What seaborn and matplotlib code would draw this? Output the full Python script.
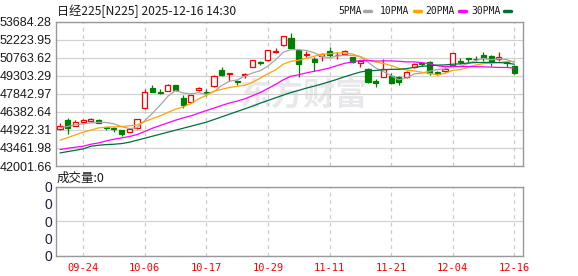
import numpy as np
import pandas as pd
import matplotlib
matplotlib.use("Agg")
import matplotlib.pyplot as plt
from matplotlib.lines import Line2D
import seaborn as sns

# ---------------- data ----------------
dates = ["09-18", "09-19", "09-22", "09-24", "09-25", "09-26", "09-29", "09-30",
         "10-01", "10-02", "10-03", "10-06", "10-07", "10-08", "10-09", "10-10",
         "10-14", "10-15", "10-16", "10-17", "10-20", "10-21", "10-22", "10-23",
         "10-24", "10-27", "10-28", "10-29", "10-30", "10-31", "11-04", "11-05",
         "11-06", "11-07", "11-10", "11-11", "11-12", "11-13", "11-14", "11-17",
         "11-18", "11-19", "11-20", "11-21", "11-25", "11-26", "11-27", "11-28",
         "12-01", "12-02", "12-03", "12-04", "12-05", "12-08", "12-09", "12-10",
         "12-11", "12-12", "12-15", "12-16"]

opens = [45007, 45764, 45277, 45602, 45683, 45710, 45169, 45061, 44899, 44791,
         45061, 46683, 48306, 48008, 48089, 48522, 47468, 47143, 48143, 48008,
         48441, 49766, 49441, 48901, 49333, 50036, 50442, 50550, 51199, 51767,
         52335, 51388, 50956, 50631, 50929, 51334, 50956, 51064, 50793, 50361,
         49874, 48901, 49225, 49279, 49171, 49171, 49982, 50307, 50415, 49604,
         49658, 50198, 50469, 50739, 50685, 50956, 50902, 50631, 50415, 50090]
highs = [45494, 45872, 45764, 45818, 45872, 45791, 45196, 45169, 44926, 45115,
         45818, 48225, 48549, 48198, 48603, 48549, 47711, 47765, 48414, 48252,
         49333, 49982, 49550, 48955, 49550, 50577, 50523, 51415, 51524, 52551,
         52740, 51442, 51280, 50847, 51118, 51605, 51226, 51388, 50847, 50577,
         49928, 49009, 50631, 49495, 49279, 49712, 50361, 50388, 50469, 49712,
         50036, 51145, 50739, 50766, 50902, 51226, 51010, 51226, 50469, 50144]
lows = [44953, 44574, 45223, 45385, 45602, 45467, 44926, 44791, 44466, 44737,
        45007, 46629, 47981, 47846, 48062, 48089, 46683, 47089, 48035, 47657,
        48387, 49279, 48847, 48576, 49117, 50009, 50198, 50523, 51118, 51740,
        51551, 49171, 50793, 49712, 50523, 50847, 50631, 51037, 50361, 50036,
        48739, 48360, 49171, 48631, 48576, 49144, 49955, 50090, 49333, 49387,
        49604, 50144, 50253, 50361, 50523, 50523, 50090, 50523, 50036, 49468]
closes = [45277, 45115, 45548, 45710, 45791, 45494, 45088, 45007, 44574, 45007,
          45791, 47954, 48008, 47873, 48576, 48143, 46954, 47711, 48306, 47873,
          49279, 49387, 49495, 48793, 49441, 50550, 50307, 51388, 51307, 52524,
          51578, 50280, 51064, 50415, 51037, 51010, 51010, 51334, 50415, 50469,
          48793, 48684, 49874, 48739, 48793, 49604, 50253, 50253, 49495, 49441,
          49874, 51118, 50415, 50685, 50631, 50739, 50523, 50847, 50361, 49495]

ma5 = [45110, 45200, 45330, 45420, 45488, 45532, 45526, 45418, 45191, 45034,
       45093, 45667, 46267, 46927, 47640, 48111, 47911, 47851, 47938, 47797,
       48025, 48511, 48868, 48965, 49279, 49533, 49717, 50096, 50599, 51215,
       51421, 51415, 51351, 51172, 50875, 50761, 50907, 50961, 50961, 50848,
       50404, 49939, 49647, 49312, 48977, 49139, 49453, 49528, 49679, 49809,
       49863, 50036, 50069, 50307, 50545, 50718, 50599, 50685, 50620, 50393]
ma10 = [44088, 44304, 44520, 44737, 44899, 45088, 45142, 45169, 45196, 45261,
        45313, 45596, 45842, 46059, 46337, 46602, 46789, 47059, 47432, 47719,
        48068, 48211, 48360, 48452, 48538, 48779, 49114, 49482, 49782, 50247,
        50477, 50566, 50723, 50885, 51045, 51091, 51161, 51156, 51067, 50861,
        50583, 50423, 50304, 50137, 49912, 49772, 49696, 49588, 49496, 49393,
        49501, 49745, 49799, 49994, 50177, 50291, 50318, 50377, 50463, 50469]
ma20 = [43330, 43438, 43520, 43601, 43763, 43871, 44033, 44169, 44277, 44385,
        44547, 44791, 45061, 45277, 45494, 45710, 45899, 46061, 46278, 46490,
        46690, 46904, 47101, 47255, 47438, 47691, 47951, 48271, 48607, 48983,
        49272, 49389, 49541, 49669, 49792, 49935, 50138, 50319, 50424, 50554,
        50530, 50495, 50514, 50511, 50479, 50431, 50429, 50372, 50281, 50127,
        50042, 50083, 50051, 50065, 50044, 50031, 50006, 49982, 49979, 49931]
ma30 = [43060, 43168, 43276, 43385, 43601, 43682, 43736, 43763, 43817, 43925,
        44088, 44250, 44412, 44574, 44737, 44899, 45061, 45223, 45386, 45548,
        45764, 45980, 46197, 46413, 46629, 46846, 47089, 47305, 47522, 47742,
        47952, 48125, 48308, 48465, 48640, 48824, 49021, 49232, 49427, 49609,
        49709, 49733, 49796, 49825, 49832, 49880, 49990, 50075, 50115, 50167,
        50187, 50244, 50275, 50338, 50378, 50384, 50391, 50373, 50342, 50241]

ma_names = ["5PMA", "10PMA", "20PMA", "30PMA"]
ma_colors = ["#a6a6a6", "#ffa500", "#ff00ff", "#006f3c"]

price_labels = ["42001.66", "43461.98", "44922.31", "46382.64", "47842.97",
                "49303.29", "50763.62", "52223.95", "53684.28"]
tick_dates = ["09-24", "10-06", "10-17", "10-29", "11-11", "11-21", "12-04", "12-16"]
title_text = "日经225[N225] 2025-12-16 14:30"
volume_text = "成交量:0"
volume_labels = ["0", "0", "0", "0", "0"]
watermark = "东方财富"

# ---------------- figure ----------------
sns.set_style("white")
plt.rcParams["font.family"] = ["Liberation Sans", "Noto Sans CJK SC", "DejaVu Sans"]

W, H = 578, 276
fig = plt.figure(figsize=(W / 100, H / 100), dpi=100)


def fx(x):
    return x / W


def fy(y):
    return 1 - y / H


ax = fig.add_axes([fx(56), fy(166), (523 - 56) / W, (166 - 21.7) / H])
axv = fig.add_axes([fx(56), fy(255.7), (523 - 56) / W, (255.7 - 186.7) / H])

n = len(dates)
idx = np.arange(n)
xlim = (-0.52, 60.13)

grid_c = "#d2d2d2"
spine_c = "#999999"

# watermark
ax.text(0.53, 0.48, watermark, transform=ax.transAxes, ha="center", va="center",
        fontsize=23, fontweight="bold", color="#e8e8ec",
        family=["Noto Sans CJK SC"], zorder=0)

# candles
up_c = "#ff0000"
dn_c = "#008000"
for i in range(n):
    o, h, l, c = opens[i], highs[i], lows[i], closes[i]
    up = c > o
    col = up_c if up else dn_c
    ax.vlines(i, l, h, color=col, lw=0.9, zorder=3)
    body = max(abs(c - o), 25)
    ax.bar(i, body, bottom=min(o, c), width=0.66,
           facecolor="white" if up else dn_c, edgecolor=col, linewidth=0.9,
           zorder=4)

# moving averages via seaborn
ma_df = pd.DataFrame({
    "idx": np.tile(idx, 4),
    "value": ma5 + ma10 + ma20 + ma30,
    "MA": np.repeat(ma_names, n),
})
sns.lineplot(data=ma_df, x="idx", y="value", hue="MA",
             palette=dict(zip(ma_names, ma_colors)), legend=False,
             linewidth=0.9, ax=ax, zorder=5, sort=False)

ax.set_xlim(*xlim)
yt = [float(s) for s in price_labels]
ax.set_ylim(yt[0], yt[-1])
ax.set_yticks(yt)
ax.set_yticklabels(price_labels, fontsize=9, color="#1a1a1a")
tick_pos = [dates.index(d) for d in tick_dates]
ax.set_xticks(tick_pos)
ax.set_xticklabels([])
ax.set_xlabel("")
ax.set_ylabel("")

for a in (ax, axv):
    a.set_xlim(*xlim)
    a.tick_params(axis="both", length=0, pad=3)
    a.grid(False)
    for y in a.get_yticks():
        a.axhline(y, color=grid_c, lw=0.9, zorder=1)
    for xp in tick_pos:
        a.axvline(xp, color="#cccccc", lw=0.9, ls=(0, (3, 3)), zorder=1)
    for s in a.spines.values():
        s.set_color(spine_c)
        s.set_linewidth(1.0)
        s.set_visible(True)

# volume panel
axv.set_ylim(0, 1)
axv.set_yticks(np.linspace(0, 1, 5))
axv.set_yticklabels(volume_labels, fontsize=10, color="#1a2040")
axv.set_xticks(tick_pos)
axv.set_xticklabels(tick_dates, fontsize=7.5, color="#ff0000",
                    family=["DejaVu Sans Mono"])
axv.tick_params(axis="x", pad=5)
axv.set_xlabel("")
axv.set_ylabel("")

# texts
fig.text(fx(57), fy(11), title_text, fontsize=8.7, color="#1a1a1a",
         ha="left", va="center", family=["Noto Sans CJK SC", "DejaVu Sans"])
fig.text(fx(57), fy(178), volume_text, fontsize=9, color="#1a1a1a",
         ha="left", va="center", family=["Noto Sans CJK SC", "DejaVu Sans"])

leg_text_x = [338, 380, 425, 471]
leg_dash_x = [364, 414, 459, 504]
for name, col, tx, dx in zip(ma_names, ma_colors, leg_text_x, leg_dash_x):
    fig.text(fx(tx), fy(11), name, fontsize=7.0, color="#1a1a1a", ha="left",
             va="center", family=["DejaVu Sans Mono"])
    fig.add_artist(Line2D([fx(dx), fx(dx + 7)], [fy(10.5), fy(10.5)],
                          color=col, lw=2.5, transform=fig.transFigure))

fig.savefig("out.png", dpi=100)
